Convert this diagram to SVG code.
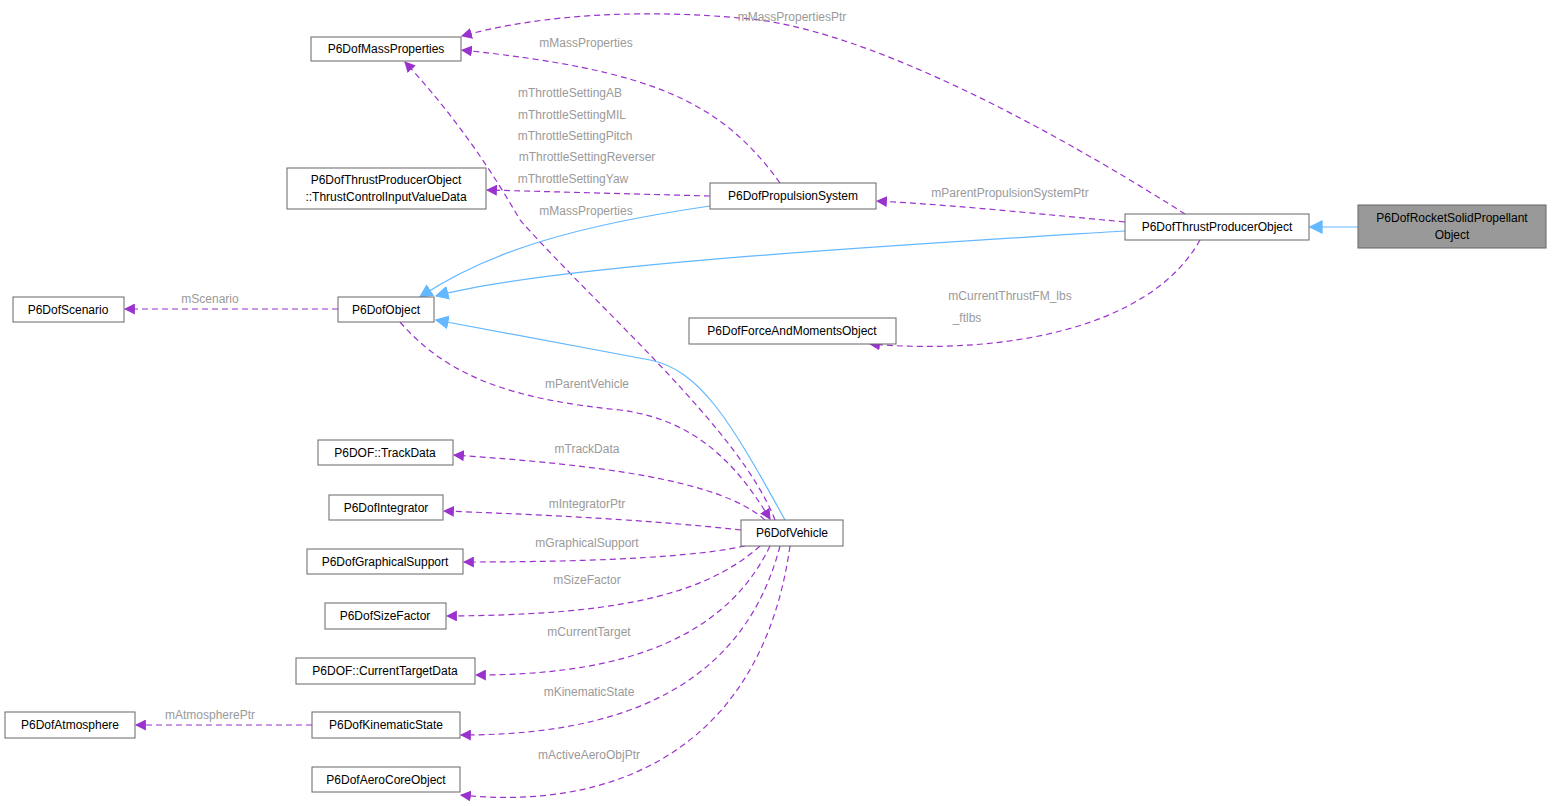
<svg xmlns="http://www.w3.org/2000/svg" width="1552" height="806" viewBox="0 0 1552 806">
<style>
.n rect{fill:#fff;stroke:#666;stroke-width:1}
.n text,.l{font-family:"Liberation Sans",Arial,sans-serif;font-size:12px}
.n text{fill:#000;text-anchor:middle}
.l{fill:#9a9a9a;text-anchor:middle}
.d{fill:none;stroke:#9a32cd;stroke-width:1.2;stroke-dasharray:6,4;marker-end:url(#pa)}
.b{fill:none;stroke:#63b8ff;stroke-width:1.2;marker-end:url(#ba)}
</style>
<defs>
<marker id="pa" viewBox="0 0 10 10" refX="9" refY="5" markerWidth="11" markerHeight="11" markerUnits="userSpaceOnUse" orient="auto"><path d="M0,0 L10,5 L0,10 z" fill="#9a32cd"/></marker>
<marker id="ba" viewBox="0 0 10 10" refX="9" refY="5" markerWidth="14" markerHeight="14" markerUnits="userSpaceOnUse" orient="auto"><path d="M0,0 L10,5 L0,10 z" fill="#63b8ff"/></marker>
</defs>
<rect width="1552" height="806" fill="#fff"/>
<g id="connectors">
<path class="d" d="M1185,214 C1100,160 900,40 760,20 C620,5 520,20 462,36"/>
<path class="d" d="M780,183 C720,100 650,70 462,50"/>
<path class="d" d="M710,196 L487,190"/>
<path class="d" d="M1125,222 C1000,210 950,205 877,201"/>
<path class="d" d="M1200,240 C1150,330 1000,355 870,344"/>
<path class="d" d="M775,520 C740,430 600,310 520,220 C480,150 440,100 405,62"/>
<path class="d" d="M338,309 L125,309"/>
<path class="d" d="M400,322 C450,380 520,400 620,410 C700,420 740,470 770,519"/>
<path class="d" d="M765,520 C720,480 600,465 454,455"/>
<path class="d" d="M741,530 C650,520 550,515 444,511"/>
<path class="d" d="M745,546 C680,560 550,562 464,562"/>
<path class="d" d="M760,546 C700,600 600,615 447,616"/>
<path class="d" d="M770,546 C720,650 600,675 476,675"/>
<path class="d" d="M780,546 C740,700 600,735 461,735"/>
<path class="d" d="M790,546 C760,760 600,810 461,795"/>
<path class="d" d="M312,725 L136,725"/>
<path class="b" d="M785,520 C730,420 700,370 650,360 L436,320"/>
<path class="b" d="M710,206 C580,225 490,250 420,297"/>
<path class="b" d="M1125,231 C900,245 550,265 436,296"/>
<path class="b" d="M1358,227 L1310,227"/>
</g>
<g id="labels">
<text class="l" x="792" y="21">mMassPropertiesPtr</text>
<text class="l" x="586" y="47">mMassProperties</text>
<text class="l" x="570" y="97">mThrottleSettingAB</text>
<text class="l" x="572" y="119">mThrottleSettingMIL</text>
<text class="l" x="575" y="140">mThrottleSettingPitch</text>
<text class="l" x="587" y="161">mThrottleSettingReverser</text>
<text class="l" x="573" y="183">mThrottleSettingYaw</text>
<text class="l" x="586" y="215">mMassProperties</text>
<text class="l" x="1010" y="197">mParentPropulsionSystemPtr</text>
<text class="l" x="1010" y="300">mCurrentThrustFM_lbs</text>
<text class="l" x="967" y="322">_ftlbs</text>
<text class="l" x="210" y="303">mScenario</text>
<text class="l" x="587" y="388">mParentVehicle</text>
<text class="l" x="587" y="453">mTrackData</text>
<text class="l" x="587" y="508">mIntegratorPtr</text>
<text class="l" x="587" y="547">mGraphicalSupport</text>
<text class="l" x="587" y="584">mSizeFactor</text>
<text class="l" x="589" y="636">mCurrentTarget</text>
<text class="l" x="589" y="696">mKinematicState</text>
<text class="l" x="589" y="759">mActiveAeroObjPtr</text>
<text class="l" x="210" y="719">mAtmospherePtr</text>
</g>
<g id="MassProperties" class="n"><rect x="311" y="37" width="150" height="24"/><text x="386" y="53">P6DofMassProperties</text></g>
<g id="ThrustCtrl" class="n"><rect x="287" y="168" width="199" height="41"/><text x="386" y="184">P6DofThrustProducerObject</text><text x="386" y="201">::ThrustControlInputValueData</text></g>
<g id="PropulsionSystem" class="n"><rect x="710" y="183" width="166" height="26"/><text x="793" y="200">P6DofPropulsionSystem</text></g>
<g id="ThrustProducer" class="n"><rect x="1125" y="214" width="184" height="26"/><text x="1217" y="231">P6DofThrustProducerObject</text></g>
<g id="Rocket" class="n"><rect x="1358" y="205" width="188" height="43" style="fill:#999"/><text x="1452" y="222">P6DofRocketSolidPropellant</text><text x="1452" y="239">Object</text></g>
<g id="Scenario" class="n"><rect x="13" y="297" width="111" height="25"/><text x="68" y="314">P6DofScenario</text></g>
<g id="Object" class="n"><rect x="338" y="297" width="96" height="25"/><text x="386" y="314">P6DofObject</text></g>
<g id="ForceMoments" class="n"><rect x="689" y="318" width="207" height="26"/><text x="792" y="335">P6DofForceAndMomentsObject</text></g>
<g id="TrackData" class="n"><rect x="318" y="440" width="135" height="25"/><text x="385" y="457">P6DOF::TrackData</text></g>
<g id="Integrator" class="n"><rect x="329" y="495" width="114" height="25"/><text x="386" y="512">P6DofIntegrator</text></g>
<g id="Vehicle" class="n"><rect x="741" y="520" width="102" height="26"/><text x="792" y="537">P6DofVehicle</text></g>
<g id="GraphicalSupport" class="n"><rect x="307" y="549" width="156" height="25"/><text x="385" y="566">P6DofGraphicalSupport</text></g>
<g id="SizeFactor" class="n"><rect x="325" y="603" width="121" height="26"/><text x="385" y="620">P6DofSizeFactor</text></g>
<g id="CurrentTarget" class="n"><rect x="296" y="658" width="179" height="26"/><text x="385" y="675">P6DOF::CurrentTargetData</text></g>
<g id="KinematicState" class="n"><rect x="312" y="712" width="148" height="26"/><text x="386" y="729">P6DofKinematicState</text></g>
<g id="Atmosphere" class="n"><rect x="5" y="712" width="130" height="26"/><text x="70" y="729">P6DofAtmosphere</text></g>
<g id="AeroCore" class="n"><rect x="312" y="767" width="148" height="25"/><text x="386" y="784">P6DofAeroCoreObject</text></g>
</svg>
